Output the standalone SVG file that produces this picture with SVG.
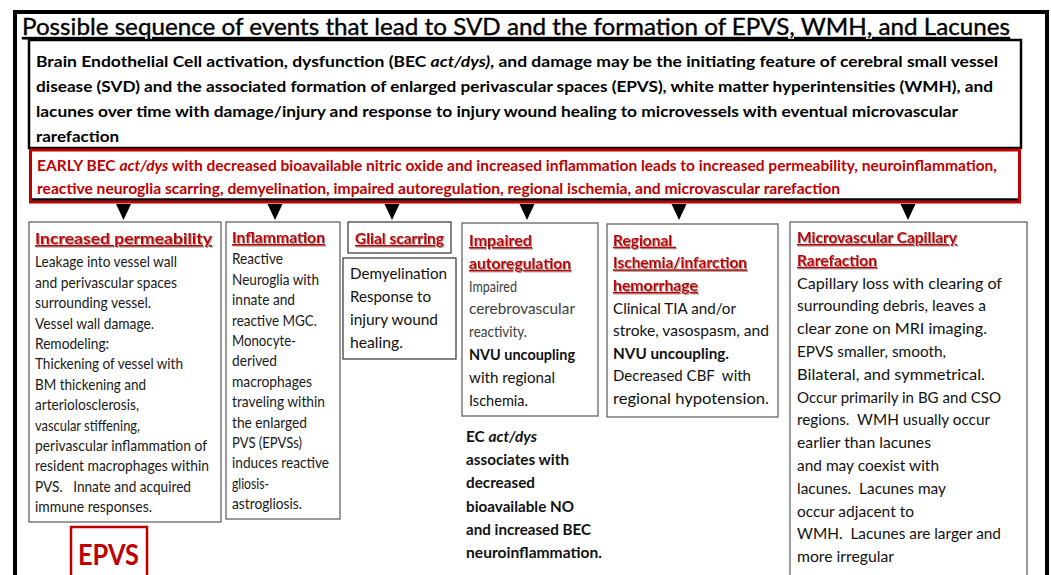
<svg xmlns="http://www.w3.org/2000/svg" width="1051" height="575" viewBox="0 0 1051 575">
<defs>
<filter id="sh" x="-5%" y="-20%" width="110%" height="140%">
<feDropShadow dx="1" dy="1" stdDeviation="0.6" flood-color="#888" flood-opacity="0.8"/>
</filter>
</defs>
<style>
text{font-family:Lato,"Open Sans","Liberation Sans",sans-serif;white-space:pre}
.title{font-size:23px;fill:#000;text-decoration:underline;stroke:#000;stroke-width:0.35}
.top{font-size:15.8px;font-weight:bold;fill:#000}
.red{font-size:15.3px;font-weight:bold;fill:#c00000}
.hd{font-size:16px;font-weight:bold;fill:#c00000;text-decoration:underline;filter:url(#sh)}
.t1{font-size:15px;fill:#1a1a1a}
.t2{font-size:16px;fill:#111}
.g{fill:#404040}
.b{font-weight:bold}
.it{font-style:italic}
.bx{fill:#fff;stroke:#595959;stroke-width:1.2}
.bx2{fill:#fff;stroke:#333;stroke-width:1.2}
.arr{fill:#000}
</style>
<rect x="0" y="0" width="1051" height="575" fill="#fff"/>
<rect id="frame" x="15" y="12" width="1032" height="620" fill="none" stroke="#000" stroke-width="4"/>
<text class="title" x="22" y="35" textLength="988" lengthAdjust="spacingAndGlyphs">Possible sequence of events that lead to SVD and the formation of EPVS, WMH, and Lacunes</text>

<g id="intro">
<rect x="29" y="40" width="992" height="108" fill="#fff" stroke="#000" stroke-width="2.5"/>
<text class="top" x="36" y="67" textLength="962" lengthAdjust="spacingAndGlyphs">Brain Endothelial Cell activation, dysfunction (BEC <tspan class="it">act/dys)</tspan>, and damage may be the initiating feature of cerebral small vessel</text>
<text class="top" x="36" y="92" textLength="957" lengthAdjust="spacingAndGlyphs">disease (SVD) and the associated formation of enlarged perivascular spaces (EPVS), white matter hyperintensities (WMH), and</text>
<text class="top" x="36" y="117" textLength="922" lengthAdjust="spacingAndGlyphs">lacunes over time with damage/injury and response to injury wound healing to microvessels with eventual microvascular</text>
<text class="top" x="36" y="142" textLength="83" lengthAdjust="spacingAndGlyphs">rarefaction</text>
</g>

<g id="early">
<rect x="30.5" y="150" width="989" height="52" fill="#fff" stroke="#c00000" stroke-width="3"/>
<line x1="32" y1="199.5" x2="1018" y2="199.5" stroke="#000" stroke-width="2.5"/>
<text class="red" x="37" y="171" textLength="960" lengthAdjust="spacingAndGlyphs">EARLY BEC <tspan class="it">act/dys</tspan> with decreased bioavailable nitric oxide and increased inflammation leads to increased permeability, neuroinflammation,</text>
<text class="red" x="37" y="194" textLength="803" lengthAdjust="spacingAndGlyphs">reactive neuroglia scarring, demyelination, impaired autoregulation, regional ischemia, and microvascular rarefaction</text>
</g>

<g id="connectors">
<path class="arr" d="M116,204 L131,204 L123.5,220 Z"/>
<path class="arr" d="M267.5,204 L282.5,204 L275,220 Z"/>
<path class="arr" d="M384.5,204 L399.5,204 L392,220 Z"/>
<path class="arr" d="M519.5,204 L534.5,204 L527,220 Z"/>
<path class="arr" d="M671.5,204 L686.5,204 L679,220 Z"/>
<path class="arr" d="M900.5,204 L915.5,204 L908,220 Z"/>
</g>

<g id="permeability">
<rect class="bx" x="29" y="222" width="192" height="300"/>
<text class="hd" x="35" y="244" textLength="177" lengthAdjust="spacingAndGlyphs">Increased permeability</text>
<text class="t1" x="35" y="267.3" textLength="142" lengthAdjust="spacingAndGlyphs">Leakage into vessel wall</text>
<text class="t1" x="35" y="287.7" textLength="142" lengthAdjust="spacingAndGlyphs">and perivascular spaces</text>
<text class="t1" x="35" y="308.1" textLength="116" lengthAdjust="spacingAndGlyphs">surrounding vessel.</text>
<text class="t1" x="35" y="328.5" textLength="119" lengthAdjust="spacingAndGlyphs">Vessel wall damage.</text>
<text class="t1" x="35" y="348.9" textLength="74" lengthAdjust="spacingAndGlyphs">Remodeling:</text>
<text class="t1" x="35" y="369.3" textLength="148" lengthAdjust="spacingAndGlyphs">Thickening of vessel with</text>
<text class="t1" x="35" y="389.7" textLength="111" lengthAdjust="spacingAndGlyphs">BM thickening and</text>
<text class="t1" x="35" y="410.1" textLength="104" lengthAdjust="spacingAndGlyphs">arteriolosclerosis,</text>
<text class="t1" x="35" y="430.5" textLength="105" lengthAdjust="spacingAndGlyphs">vascular stiffening,</text>
<text class="t1" x="35" y="450.9" textLength="172" lengthAdjust="spacingAndGlyphs">perivascular inflammation of</text>
<text class="t1" x="35" y="471.3" textLength="174" lengthAdjust="spacingAndGlyphs">resident macrophages within</text>
<text class="t1" x="35" y="491.7" textLength="156" lengthAdjust="spacingAndGlyphs">PVS.   Innate and acquired</text>
<text class="t1" x="35" y="512.1" textLength="117" lengthAdjust="spacingAndGlyphs">immune responses.</text>
</g>

<g id="inflammation">
<rect class="bx" x="226" y="222" width="114" height="297"/>
<text class="hd" x="232" y="243" textLength="93" lengthAdjust="spacingAndGlyphs">Inflammation</text>
<text class="t1" x="232" y="264.3" textLength="51" lengthAdjust="spacingAndGlyphs">Reactive</text>
<text class="t1" x="232" y="284.7" textLength="87" lengthAdjust="spacingAndGlyphs">Neuroglia with</text>
<text class="t1" x="232" y="305.1" textLength="63" lengthAdjust="spacingAndGlyphs">innate and</text>
<text class="t1" x="232" y="325.5" textLength="85" lengthAdjust="spacingAndGlyphs">reactive MGC.</text>
<text class="t1" x="232" y="345.9" textLength="64" lengthAdjust="spacingAndGlyphs">Monocyte-</text>
<text class="t1" x="232" y="366.3" textLength="45" lengthAdjust="spacingAndGlyphs">derived</text>
<text class="t1" x="232" y="386.7" textLength="80" lengthAdjust="spacingAndGlyphs">macrophages</text>
<text class="t1" x="232" y="407.1" textLength="93" lengthAdjust="spacingAndGlyphs">traveling within</text>
<text class="t1" x="232" y="427.5" textLength="75" lengthAdjust="spacingAndGlyphs">the enlarged</text>
<text class="t1" x="232" y="447.9" textLength="70" lengthAdjust="spacingAndGlyphs">PVS (EPVSs)</text>
<text class="t1" x="232" y="468.3" textLength="97" lengthAdjust="spacingAndGlyphs">induces reactive</text>
<text class="t1" x="232" y="488.7" textLength="37" lengthAdjust="spacingAndGlyphs">gliosis-</text>
<text class="t1" x="232" y="509.1" textLength="70" lengthAdjust="spacingAndGlyphs">astrogliosis.</text>
</g>

<g id="glial">
<rect class="bx2" x="348" y="222" width="103" height="31"/>
<text class="hd" x="355" y="244" textLength="89" lengthAdjust="spacingAndGlyphs">Glial scarring</text>
</g>

<g id="demyelination">
<rect class="bx2" x="343" y="258" width="113" height="101"/>
<text class="t2" x="350" y="279" textLength="97" lengthAdjust="spacingAndGlyphs">Demyelination</text>
<text class="t2" x="350" y="302" textLength="81" lengthAdjust="spacingAndGlyphs">Response to</text>
<text class="t2" x="350" y="325" textLength="88" lengthAdjust="spacingAndGlyphs">injury wound</text>
<text class="t2" x="350" y="348" textLength="53" lengthAdjust="spacingAndGlyphs">healing.</text>
</g>

<g id="autoregulation">
<rect class="bx" x="462" y="223" width="136" height="193"/>
<text class="hd" x="469" y="246" textLength="63" lengthAdjust="spacingAndGlyphs">Impaired</text>
<text class="hd" x="469" y="268.8" textLength="102" lengthAdjust="spacingAndGlyphs">autoregulation</text>
<text class="t2 g" x="469" y="291.6" textLength="48" lengthAdjust="spacingAndGlyphs">Impaired</text>
<text class="t2 g" x="469" y="314.4" textLength="106" lengthAdjust="spacingAndGlyphs">cerebrovascular</text>
<text class="t2 g" x="469" y="337.2" textLength="58" lengthAdjust="spacingAndGlyphs">reactivity.</text>
<text class="t2 b" x="469" y="360" textLength="106" lengthAdjust="spacingAndGlyphs">NVU uncoupling</text>
<text class="t2" x="469" y="382.8" textLength="86" lengthAdjust="spacingAndGlyphs">with regional</text>
<text class="t2" x="469" y="405.6" textLength="59" lengthAdjust="spacingAndGlyphs">Ischemia.</text>
</g>

<g id="ec-note">
<text class="t2 b" x="466" y="442" textLength="71" lengthAdjust="spacingAndGlyphs">EC <tspan class="it">act/dys</tspan></text>
<text class="t2 b" x="466" y="465.2" textLength="103" lengthAdjust="spacingAndGlyphs">associates with</text>
<text class="t2 b" x="466" y="488.4" textLength="69" lengthAdjust="spacingAndGlyphs">decreased</text>
<text class="t2 b" x="466" y="511.6" textLength="108" lengthAdjust="spacingAndGlyphs">bioavailable NO</text>
<text class="t2 b" x="466" y="534.8" textLength="125" lengthAdjust="spacingAndGlyphs">and increased BEC</text>
<text class="t2 b" x="466" y="558" textLength="136" lengthAdjust="spacingAndGlyphs">neuroinflammation.</text>
</g>

<g id="ischemia">
<rect class="bx" x="607" y="224" width="171" height="193"/>
<text class="hd" x="613" y="245.7" textLength="63" lengthAdjust="spacingAndGlyphs">Regional </text>
<text class="hd" x="613" y="268.3" textLength="134" lengthAdjust="spacingAndGlyphs">Ischemia/infarction</text>
<text class="hd" x="613" y="290.9" textLength="85" lengthAdjust="spacingAndGlyphs">hemorrhage</text>
<text class="t2" x="613" y="313.5" textLength="123" lengthAdjust="spacingAndGlyphs">Clinical TIA and/or</text>
<text class="t2" x="613" y="336.1" textLength="156" lengthAdjust="spacingAndGlyphs">stroke, vasospasm, and</text>
<text class="t2 b" x="613" y="358.7" textLength="116" lengthAdjust="spacingAndGlyphs">NVU uncoupling.</text>
<text class="t2" x="613" y="381.3" textLength="138" lengthAdjust="spacingAndGlyphs">Decreased CBF  with</text>
<text class="t2" x="613" y="403.9" textLength="156" lengthAdjust="spacingAndGlyphs">regional hypotension.</text>
</g>

<g id="rarefaction">
<rect class="bx" x="790" y="222" width="237" height="370"/>
<text class="hd" x="797" y="243" textLength="160" lengthAdjust="spacingAndGlyphs">Microvascular Capillary</text>
<text class="hd" x="797" y="265.8" textLength="80" lengthAdjust="spacingAndGlyphs">Rarefaction</text>
<text class="t2" x="797" y="288.6" textLength="205" lengthAdjust="spacingAndGlyphs">Capillary loss with clearing of</text>
<text class="t2" x="797" y="311.4" textLength="189" lengthAdjust="spacingAndGlyphs">surrounding debris, leaves a</text>
<text class="t2" x="797" y="334.2" textLength="190" lengthAdjust="spacingAndGlyphs">clear zone on MRI imaging.</text>
<text class="t2" x="797" y="357" textLength="149" lengthAdjust="spacingAndGlyphs">EPVS smaller, smooth,</text>
<text class="t2" x="797" y="379.8" textLength="188" lengthAdjust="spacingAndGlyphs">Bilateral, and symmetrical.</text>
<text class="t2" x="797" y="402.6" textLength="204" lengthAdjust="spacingAndGlyphs">Occur primarily in BG and CSO</text>
<text class="t2" x="797" y="425.4" textLength="193" lengthAdjust="spacingAndGlyphs">regions.  WMH usually occur</text>
<text class="t2" x="797" y="448.2" textLength="134" lengthAdjust="spacingAndGlyphs">earlier than lacunes</text>
<text class="t2" x="797" y="471" textLength="142" lengthAdjust="spacingAndGlyphs">and may coexist with</text>
<text class="t2" x="797" y="493.8" textLength="149" lengthAdjust="spacingAndGlyphs">lacunes.  Lacunes may</text>
<text class="t2" x="797" y="516.6" textLength="117" lengthAdjust="spacingAndGlyphs">occur adjacent to</text>
<text class="t2" x="797" y="539.4" textLength="204" lengthAdjust="spacingAndGlyphs">WMH.  Lacunes are larger and</text>
<text class="t2" x="797" y="562.2" textLength="97" lengthAdjust="spacingAndGlyphs">more irregular</text>
</g>

<g id="epvs">
<rect x="71" y="527" width="76" height="60" fill="#fff" stroke="#c00000" stroke-width="2.5"/>
<text x="78" y="565" textLength="61" lengthAdjust="spacingAndGlyphs" style="font-size:29px;font-weight:bold;fill:#c00000">EPVS</text>
</g>
</svg>
